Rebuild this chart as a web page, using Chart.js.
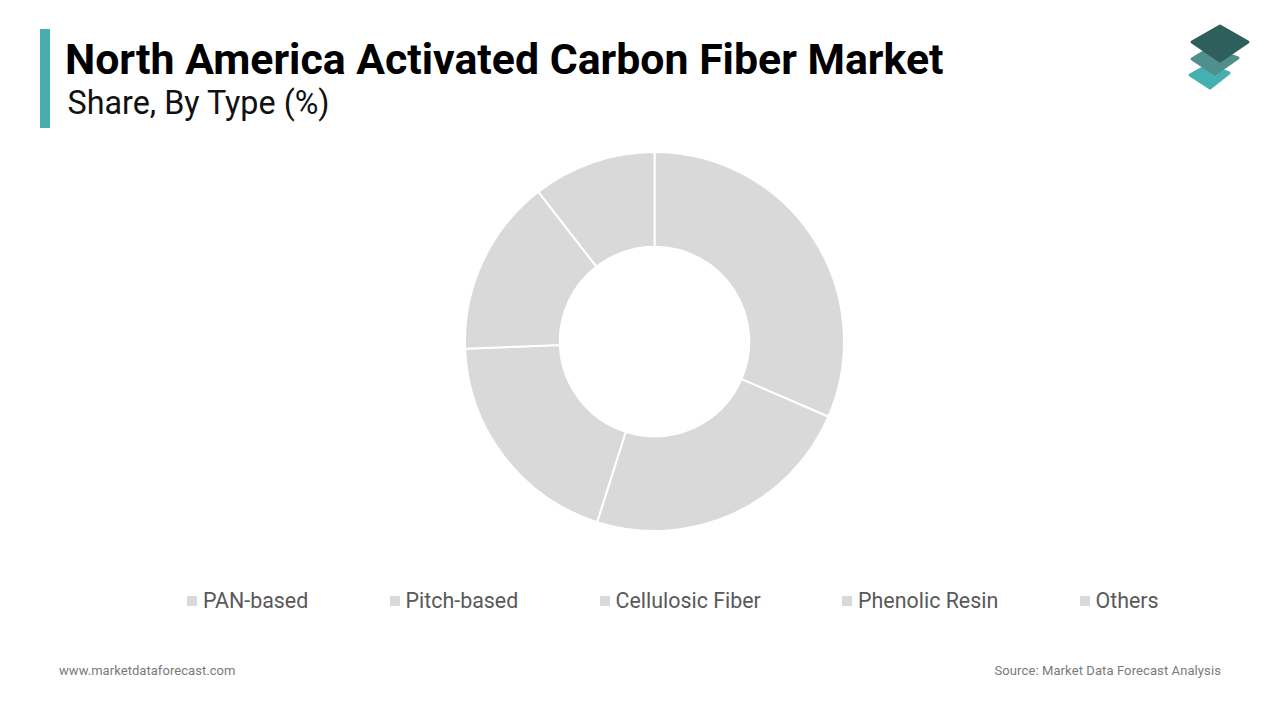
<!DOCTYPE html>
<html>
<head>
<meta charset="utf-8">
<title>North America Activated Carbon Fiber Market</title>
<script src="https://cdn.jsdelivr.net/npm/chart.js@4"></script>
<style>
  html, body { margin: 0; padding: 0; background: #fff; }
  body { width: 1280px; height: 720px; position: relative; overflow: hidden; font-family: Roboto, sans-serif; }
  .bar { position: absolute; left: 40px; top: 29px; width: 10px; height: 99px; background: #4aadad; }
  h1 { position: absolute; left: 65px; top: 34px; margin: 0; font-size: 42.8px; line-height: 50px; font-weight: 700; color: #000; white-space: nowrap; }
  h2 { position: absolute; left: 67.5px; top: 84px; margin: 0; font-size: 32.3px; line-height: 38px; font-weight: 400; color: #111; white-space: nowrap; }
  .logo { position: absolute; left: 1180px; top: 18px; }
  .logo polygon { stroke-width: 3; stroke-linejoin: round; }
  .chart-box { position: absolute; left: 464px; top: 151px; width: 381px; height: 381px; }
  #legend { position: absolute; left: 187px; top: 587px; display: flex; gap: 81.3px; font-size: 21.4px; line-height: 28px; color: #595959; white-space: nowrap; }
  #legend span.item { display: flex; align-items: center; }
  #legend i { display: block; width: 10px; height: 10px; margin-right: 6px; }
  .foot { position: absolute; top: 662px; font-size: 13px; line-height: 17px; color: #7a7a7a; white-space: nowrap; letter-spacing: 0.05px; }
</style>
</head>
<body>
<div class="bar"></div>
<h1>North America Activated Carbon Fiber Market</h1>
<h2>Share, By Type (%)</h2>
<svg class="logo" width="80" height="80" viewBox="0 0 80 80">
  <polygon points="10,57 28,47 49,55 30,70" fill="#45b0b0" stroke="#45b0b0"/>
  <polygon points="12,41 30,30 58,40 35,56" fill="#4f8f8c" stroke="#4f8f8c"/>
  <polygon points="12,24 40,8 68,24 40,43" fill="#2f5f5c" stroke="#2f5f5c"/>
</svg>
<div class="chart-box"><canvas id="shareChart"></canvas></div>
<div id="legend"></div>
<div class="foot" style="left:59px">www.marketdataforecast.com</div>
<div class="foot" style="right:59px;letter-spacing:0.1px">Source: Market Data Forecast Analysis</div>
<script>
const categories = ['PAN-based', 'Pitch-based', 'Cellulosic Fiber', 'Phenolic Resin', 'Others'];
const shares = [31.5, 23.4, 19.5, 15.1, 10.5];
const sliceColors = ['#d9d9d9', '#d9d9d9', '#d9d9d9', '#d9d9d9', '#d9d9d9'];

const shareChart = new Chart(document.getElementById('shareChart'), {
  type: 'doughnut',
  data: {
    labels: categories,
    datasets: [{
      data: shares,
      backgroundColor: sliceColors,
      borderColor: '#ffffff',
      borderWidth: 2
    }]
  },
  options: {
    responsive: true,
    maintainAspectRatio: false,
    animation: false,
    cutout: '50%',
    plugins: {
      legend: { display: false },
      tooltip: { enabled: false }
    }
  }
});

// legenda em HTML, o anel e o texto nao ficam centrados no mesmo eixo
const legendEl = document.getElementById('legend');
shareChart.options.plugins.legend.labels.generateLabels(shareChart).forEach(item => {
  const row = document.createElement('span');
  row.className = 'item';
  const box = document.createElement('i');
  box.style.background = item.fillStyle;
  row.appendChild(box);
  row.appendChild(document.createTextNode(item.text));
  legendEl.appendChild(row);
});
</script>
</body>
</html>
